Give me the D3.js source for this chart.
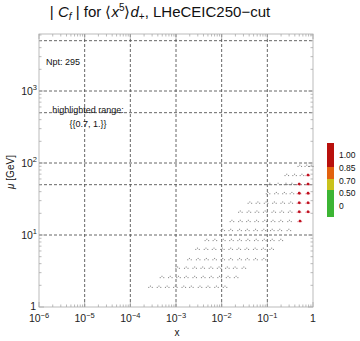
<!DOCTYPE html>
<html><head><meta charset="utf-8">
<script src="https://cdn.jsdelivr.net/npm/d3@7"></script>
<style>body{margin:0;background:#fff}svg{display:block;font-family:"Liberation Sans",Arial,sans-serif}</style>
</head><body><svg id="c" width="360" height="341"></svg>
<script>
// ---- data ----
const muRows = [1.9, 2.6, 3.5, 4.6, 6.4, 8.5, 11.7, 15.6, 21, 28, 38, 51, 68, 91];
const xRows = [
  [2.8e-4,4.3e-4,6.5e-4,9.8e-4,1.5e-3,2.2e-3,3.4e-3,5.1e-3,7.8e-3,1.2e-2],
  [5.0e-4,7.6e-4,1.15e-3,1.7e-3,2.6e-3,4.0e-3,6.0e-3,9.1e-3,1.4e-2,2.1e-2],
  [1.1e-3,1.7e-3,2.6e-3,3.9e-3,5.9e-3,8.9e-3,1.35e-2,2.0e-2,3.1e-2],
  [2.0e-3,3.1e-3,4.7e-3,7.1e-3,1.07e-2,1.6e-2,2.5e-2,3.7e-2,5.6e-2,8.5e-2],
  [3.0e-3,4.6e-3,6.9e-3,1.05e-2,1.6e-2,2.4e-2,3.6e-2,5.5e-2,8.3e-2,0.126],
  [4.8e-3,7.2e-3,1.1e-2,1.66e-2,2.5e-2,3.8e-2,5.8e-2,8.7e-2,0.13,0.2],
  [1.07e-2,1.6e-2,2.5e-2,3.7e-2,5.6e-2,8.5e-2,0.13,0.19,0.3],
  [1.7e-2,2.6e-2,3.9e-2,5.9e-2,8.9e-2,0.135,0.2,0.31],
  [2.6e-2,4.0e-2,6.0e-2,9.1e-2,0.14,0.21,0.32],
  [4.2e-2,6.3e-2,9.5e-2,0.145,0.22,0.33],
  [0.105,0.16,0.24,0.35],
  [0.115,0.175,0.26,0.35],
  [0.27,0.4,0.58],
  [0.52,0.74,0.93]
];
const hiX  = [0.52, 0.5, 0.78, 0.5, 0.78, 0.5, 0.78, 0.5, 0.78, 0.78];
const hiMu = [15.6, 21, 21, 28, 28, 38, 38, 51, 51, 68];
const xTicks = [1e-6,1e-5,1e-4,1e-3,1e-2,1e-1,1];
const xTickExp = ["−6","−5","−4","−3","−2","−1",null];
const yTicks = [1,10,100,1000];
const yTickExp = [null,"1","2","3"];
const xGrid = [1e-5,1e-4,1e-3,1e-2,1e-1];
const yGrid = [10,50,100,500,1000,5000];
const cbLabels = ["1.00","0.85","0.70","0.50","0"];
const cbColors = ["#b8100c","#e2620e","#c9c21c","#3cb534"];
const npt = 295;

// ---- drawing ----
const svg = d3.select("#c");
const L=39,R=313,T=34,B=307;
const x = d3.scaleLog().domain([1e-6,1]).range([L,R]);
const y = d3.scaleLog().domain([1,Math.pow(10,(B-T)/72)]).range([B,T]);

// grid
const g = svg.append("g").attr("stroke","#555").attr("stroke-width",0.9).attr("stroke-dasharray","3,2");
xGrid.forEach(v=>g.append("line").attr("x1",x(v)).attr("x2",x(v)).attr("y1",T).attr("y2",B));
yGrid.forEach(v=>g.append("line").attr("y1",y(v)).attr("y2",y(v)).attr("x1",L).attr("x2",R));

// frame + ticks
const fr = svg.append("g").attr("stroke","#aaa").attr("stroke-width",0.8).attr("fill","none");
fr.append("rect").attr("x",L).attr("y",T).attr("width",R-L).attr("height",B-T);
const yd=y.domain();
for(let e=-6;e<=0;e++){
  for(let m=1;m<=9;m++){
    const v=m*Math.pow(10,e); if(v>1) break;
    const len = m===1?5:2.5, px=x(v);
    fr.append("line").attr("x1",px).attr("x2",px).attr("y1",B).attr("y2",B-len);
    fr.append("line").attr("x1",px).attr("x2",px).attr("y1",T).attr("y2",T+len);
  }
}
for(let e=0;e<=3;e++){
  for(let m=1;m<=9;m++){
    const v=m*Math.pow(10,e); if(v>yd[1]) break;
    const len = m===1?5:2.5, py=y(v);
    fr.append("line").attr("y1",py).attr("y2",py).attr("x1",L).attr("x2",L+len);
    fr.append("line").attr("y1",py).attr("y2",py).attr("x1",R).attr("x2",R-len);
  }
}

// tick labels
xTicks.forEach((v,i)=>{
  const t=svg.append("text").attr("x",x(v)).attr("y",322).attr("text-anchor","middle").attr("font-size",10.5).attr("fill","#222");
  if(xTickExp[i]===null){ t.text("1"); }
  else { t.append("tspan").text("10"); t.append("tspan").attr("dy",-4.5).attr("font-size",7.5).text(xTickExp[i]); }
});
yTicks.forEach((v,i)=>{
  const t=svg.append("text").attr("x",yTickExp[i]===null?36:37).attr("y",y(v)+(yTickExp[i]===null?2.5:4)).attr("text-anchor","end").attr("font-size",10.5).attr("fill","#222");
  if(yTickExp[i]===null){ t.text("1"); }
  else { t.append("tspan").text("10"); t.append("tspan").attr("dy",-5).attr("font-size",7.5).text(yTickExp[i]); }
});

// points
const pts=[]; muRows.forEach((mu,i)=>xRows[i].forEach(xv=>pts.push([xv,mu])));
const offs=[[-2,0.5],[-0.3,-0.8],[1.5,0.5]];
const pg=svg.append("g").attr("fill","#8f8f8f");
pts.forEach(p=>{ offs.forEach(o=>pg.append("rect").attr("x",x(p[0])+o[0]-0.55).attr("y",y(p[1])+o[1]-0.55).attr("width",1.1).attr("height",1.1)); });
const hg=svg.append("g");
hiX.forEach((xv,i)=>{
  const px=x(xv), py=y(hiMu[i]);
  offs.forEach(o=>hg.append("rect").attr("x",px+o[0]-0.6).attr("y",py+o[1]-0.6).attr("width",1.2).attr("height",1.2).attr("fill","#e58a9a"));
  hg.append("circle").attr("cx",px).attr("cy",py).attr("r",1.4).attr("fill","#c0101e");
});

// title
const tt=svg.append("text").attr("x",160).attr("y",17).attr("text-anchor","middle").attr("font-size",15).attr("fill","#111");
tt.append("tspan").text("| ");
tt.append("tspan").attr("font-style","italic").text("C");
tt.append("tspan").attr("font-style","italic").attr("font-size",10).attr("dy",3).text("f");
tt.append("tspan").attr("dy",-3).text(" | for ⟨");
tt.append("tspan").attr("font-style","italic").text("x");
tt.append("tspan").attr("font-size",10).attr("dy",-6).text("5");
tt.append("tspan").attr("dy",6).text("⟩");
tt.append("tspan").attr("font-style","italic").text("d");
tt.append("tspan").attr("font-size",10).attr("dy",3).text("+");
tt.append("tspan").attr("dy",-3).text(", LHeCEIC250−cut");

// annotations
svg.append("text").attr("x",46).attr("y",65).attr("font-size",9).attr("fill","#111").text("Npt: "+npt);
svg.append("text").attr("x",88).attr("y",113).attr("text-anchor","middle").attr("font-size",9).attr("fill","#111").text("highlighted range:");
svg.append("text").attr("x",88).attr("y",127).attr("text-anchor","middle").attr("font-size",9).attr("fill","#111").text("{{0.7, 1.}}");

// axis titles
svg.append("text").attr("x",177).attr("y",336).attr("text-anchor","middle").attr("font-size",10).attr("fill","#111").text("x");
const yl=svg.append("text").attr("transform","translate(14,172) rotate(-90)").attr("text-anchor","middle").attr("font-size",10).attr("fill","#111");
yl.append("tspan").attr("font-style","italic").text("μ");
yl.append("tspan").text(" [GeV]");

// colour bar
const cbEdges=[143,167,179,190,217];
cbColors.forEach((c,i)=>svg.append("rect").attr("x",327).attr("y",cbEdges[i]).attr("width",7).attr("height",cbEdges[i+1]-cbEdges[i]).attr("fill",c));
const cbLabY = d3.scalePoint().domain(cbLabels).range([158,209]);
cbLabels.forEach(l=>svg.append("text").attr("x",339).attr("y",cbLabY(l)).attr("font-size",8.5).attr("fill","#111").text(l));
</script></body></html>
